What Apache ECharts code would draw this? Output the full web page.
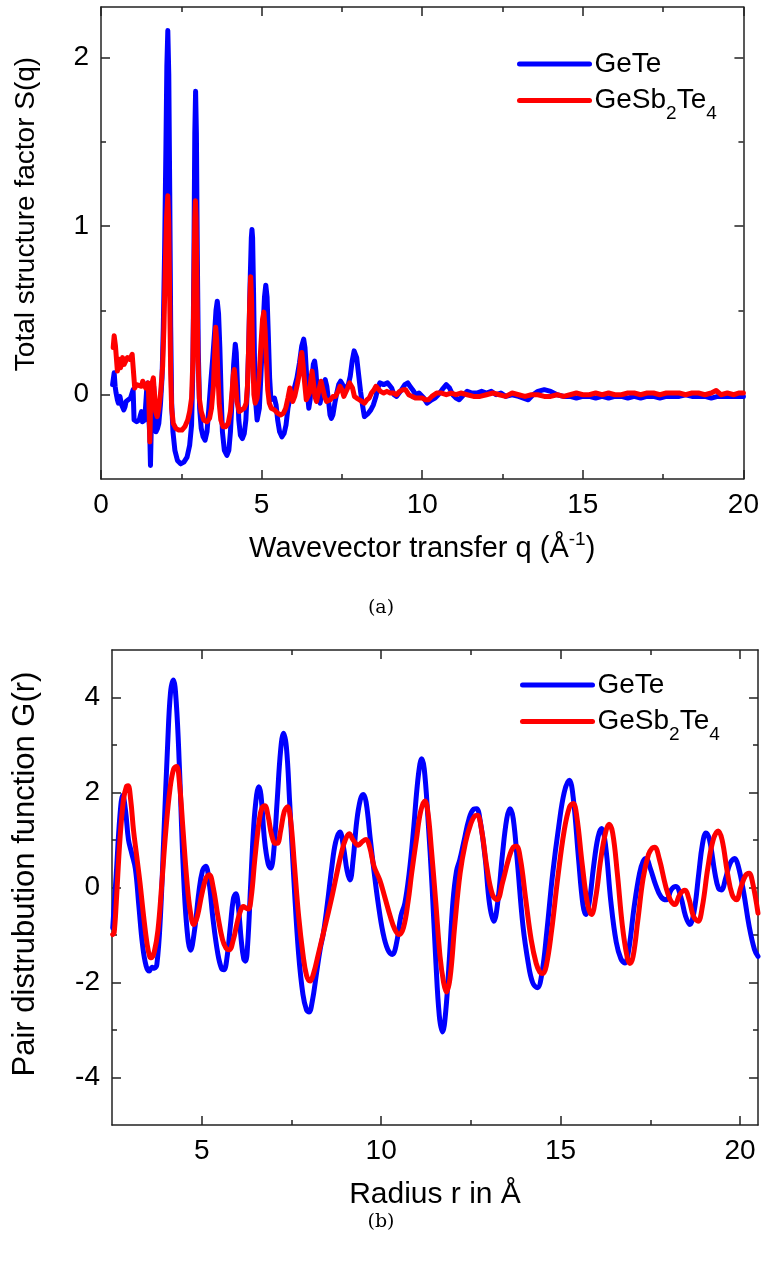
<!DOCTYPE html>
<html>
<head>
<meta charset="utf-8">
<script src="https://cdn.jsdelivr.net/npm/echarts@6/dist/echarts.min.js"></script>
<style>
  html, body { margin: 0; padding: 0; background: #fff; }
  #chart { width: 762px; height: 1270px; }
</style>
</head>
<body>
<div id="chart"></div>
<script>
// ---- (a) total structure factor S(q): [q (1/Å), S] ----
const sqGeTe = [[0.36,0.06],[0.41,0.13],[0.44,0.05],[0.47,0.01],[0.51,-0.03],[0.54,-0.05],[0.59,-0.01],[0.64,-0.06],[0.68,-0.05],[0.71,-0.09],[0.75,-0.07],[0.78,-0.04],[0.85,-0.03],[0.92,-0.02],[0.97,-0.01],[1.00,0.03],[1.03,-0.15],[1.11,-0.16],[1.19,-0.15],[1.23,-0.12],[1.26,-0.10],[1.29,-0.16],[1.36,-0.15],[1.40,-0.16],[1.43,0.05],[1.45,0.07],[1.48,-0.10],[1.52,-0.25],[1.54,-0.42],[1.57,-0.15],[1.60,0.00],[1.64,0.05],[1.67,-0.05],[1.71,-0.22],[1.76,-0.20],[1.80,-0.17],[1.85,-0.06],[1.90,0.10],[1.94,0.40],[1.98,0.85],[2.02,1.45],[2.05,1.95],[2.08,2.16],[2.11,1.90],[2.14,1.20],[2.17,0.40],[2.20,-0.05],[2.24,-0.22],[2.30,-0.33],[2.38,-0.39],[2.48,-0.41],[2.58,-0.40],[2.68,-0.37],[2.76,-0.30],[2.82,-0.18],[2.86,0.15],[2.89,0.75],[2.92,1.55],[2.945,1.80],[2.97,1.55],[3.00,0.80],[3.03,0.25],[3.07,-0.08],[3.12,-0.20],[3.18,-0.25],[3.24,-0.27],[3.30,-0.22],[3.35,-0.10],[3.42,0.08],[3.48,0.22],[3.54,0.38],[3.58,0.50],[3.62,0.555],[3.66,0.48],[3.70,0.28],[3.74,0.00],[3.78,-0.22],[3.84,-0.33],[3.92,-0.36],[3.98,-0.33],[4.03,-0.22],[4.08,-0.03],[4.13,0.18],[4.18,0.30],[4.21,0.25],[4.25,0.05],[4.29,-0.15],[4.34,-0.24],[4.40,-0.26],[4.46,-0.23],[4.51,-0.15],[4.56,0.05],[4.60,0.30],[4.64,0.65],[4.68,0.93],[4.70,0.98],[4.72,0.93],[4.75,0.60],[4.78,0.20],[4.81,-0.03],[4.86,-0.15],[4.89,-0.16],[4.93,-0.08],[4.98,0.12],[5.04,0.38],[5.09,0.58],[5.13,0.65],[5.17,0.58],[5.21,0.35],[5.25,0.10],[5.29,-0.03],[5.34,-0.03],[5.40,-0.02],[5.45,-0.06],[5.50,-0.15],[5.56,-0.22],[5.63,-0.25],[5.70,-0.23],[5.76,-0.18],[5.82,-0.08],[5.88,-0.02],[5.95,-0.01],[6.02,0.04],[6.10,0.10],[6.18,0.19],[6.25,0.29],[6.31,0.33],[6.35,0.28],[6.39,0.15],[6.43,0.00],[6.47,-0.08],[6.51,-0.03],[6.56,0.08],[6.61,0.18],[6.65,0.20],[6.69,0.14],[6.73,0.03],[6.78,-0.03],[6.82,-0.05],[6.87,0.00],[6.92,0.06],[6.98,0.09],[7.03,0.05],[7.08,-0.03],[7.13,-0.12],[7.17,-0.14],[7.22,-0.12],[7.28,-0.05],[7.34,0.01],[7.40,0.06],[7.46,0.08],[7.52,0.06],[7.58,0.03],[7.64,0.04],[7.70,0.06],[7.76,0.11],[7.82,0.20],[7.88,0.26],[7.92,0.27],[7.96,0.22],[8.02,0.12],[8.08,0.02],[8.14,-0.06],[8.20,-0.13],[8.25,-0.14],[8.32,-0.11],[8.40,-0.09],[8.48,-0.06],[8.56,-0.01],[8.62,0.04],[8.68,0.07],[8.74,0.08],[8.80,0.06],[8.86,0.05],[8.92,0.07],[8.98,0.08],[9.05,0.04],[9.12,0.00],[9.20,-0.01],[9.28,0.01],[9.36,0.03],[9.46,0.06],[9.55,0.07],[9.62,0.05],[9.70,0.03],[9.80,0.00],[9.90,0.01],[9.96,0.01],[10.05,-0.02],[10.15,-0.05],[10.20,-0.04],[10.30,-0.03],[10.40,-0.02],[10.50,0.00],[10.62,0.03],[10.75,0.06],[10.85,0.04],[10.95,0.00],[11.05,-0.02],[11.15,-0.03],[11.25,-0.01],[11.40,0.02],[11.55,0.01],[11.70,0.01],[11.85,0.02],[12.00,0.01],[12.15,0.02],[12.30,0.00],[12.45,0.01],[12.60,-0.01],[12.80,0.00],[13.00,-0.01],[13.15,-0.02],[13.30,-0.03],[13.45,0.00],[13.60,0.02],[13.80,0.03],[14.00,0.02],[14.20,0.00],[14.40,-0.01],[14.60,-0.01],[14.80,-0.02],[15.00,-0.01],[15.20,-0.01],[15.40,-0.02],[15.60,-0.01],[15.80,-0.02],[16.00,-0.01],[16.20,-0.01],[16.40,-0.02],[16.60,-0.01],[16.80,-0.02],[17.00,-0.01],[17.20,-0.01],[17.40,-0.02],[17.60,-0.01],[17.80,-0.01],[18.00,-0.01],[18.20,0.00],[18.40,-0.01],[18.60,-0.01],[18.80,-0.01],[19.00,-0.02],[19.20,-0.01],[19.40,-0.01],[19.60,-0.01],[19.80,-0.01],[20.00,-0.01]];

const sqGST = [[0.38,0.28],[0.41,0.35],[0.45,0.29],[0.48,0.28],[0.51,0.14],[0.56,0.21],[0.61,0.16],[0.67,0.22],[0.72,0.18],[0.75,0.17],[0.82,0.22],[0.90,0.21],[0.97,0.24],[1.02,0.25],[1.05,0.04],[1.11,0.06],[1.16,0.07],[1.26,0.05],[1.30,0.08],[1.34,0.09],[1.39,0.04],[1.42,0.05],[1.47,0.07],[1.50,-0.10],[1.52,-0.28],[1.55,0.00],[1.59,0.07],[1.63,0.10],[1.66,0.02],[1.70,-0.10],[1.75,-0.13],[1.80,-0.08],[1.86,0.02],[1.92,0.17],[1.96,0.40],[2.00,0.75],[2.04,1.05],[2.08,1.18],[2.11,1.02],[2.14,0.55],[2.17,0.12],[2.20,-0.08],[2.25,-0.17],[2.33,-0.20],[2.42,-0.21],[2.52,-0.21],[2.61,-0.19],[2.70,-0.15],[2.76,-0.10],[2.82,-0.02],[2.86,0.20],[2.89,0.60],[2.92,1.05],[2.94,1.15],[2.96,1.05],[2.99,0.60],[3.02,0.20],[3.06,-0.02],[3.12,-0.10],[3.20,-0.15],[3.30,-0.16],[3.38,-0.14],[3.44,-0.08],[3.50,0.05],[3.54,0.25],[3.57,0.40],[3.60,0.33],[3.64,0.12],[3.68,-0.05],[3.73,-0.15],[3.80,-0.19],[3.88,-0.19],[3.96,-0.17],[4.03,-0.10],[4.08,0.02],[4.12,0.12],[4.15,0.15],[4.19,0.07],[4.23,-0.04],[4.30,-0.10],[4.38,-0.09],[4.46,-0.08],[4.52,-0.05],[4.56,0.05],[4.60,0.30],[4.63,0.55],[4.66,0.70],[4.69,0.55],[4.72,0.25],[4.76,0.00],[4.80,-0.05],[4.86,-0.02],[4.92,0.10],[4.98,0.30],[5.03,0.45],[5.07,0.49],[5.11,0.38],[5.15,0.20],[5.19,0.03],[5.24,-0.05],[5.30,-0.08],[5.40,-0.09],[5.50,-0.11],[5.60,-0.12],[5.68,-0.11],[5.75,-0.08],[5.82,-0.02],[5.88,0.04],[5.92,0.03],[5.97,-0.04],[6.03,-0.01],[6.10,0.05],[6.17,0.12],[6.22,0.22],[6.25,0.25],[6.29,0.18],[6.34,0.07],[6.39,-0.03],[6.43,-0.04],[6.49,0.01],[6.54,0.10],[6.57,0.14],[6.61,0.08],[6.66,-0.01],[6.71,-0.04],[6.76,-0.03],[6.81,0.05],[6.85,0.08],[6.90,0.04],[6.96,-0.01],[7.02,-0.04],[7.08,-0.04],[7.14,-0.03],[7.22,-0.01],[7.30,-0.01],[7.38,0.02],[7.44,0.05],[7.50,0.03],[7.56,-0.01],[7.62,0.00],[7.68,0.04],[7.74,0.07],[7.78,0.08],[7.83,0.04],[7.89,-0.01],[7.96,-0.02],[8.04,-0.03],[8.12,-0.04],[8.20,-0.05],[8.28,-0.03],[8.35,-0.02],[8.42,0.01],[8.50,0.03],[8.56,0.05],[8.62,0.04],[8.70,0.02],[8.80,0.01],[8.90,0.02],[9.00,0.01],[9.10,0.01],[9.20,0.00],[9.30,0.02],[9.40,0.03],[9.48,0.03],[9.58,0.00],[9.68,-0.01],[9.80,-0.02],[9.90,-0.02],[10.00,-0.02],[10.10,-0.03],[10.20,-0.03],[10.30,-0.01],[10.45,0.01],[10.60,0.01],[10.75,0.00],[10.90,0.01],[11.05,0.00],[11.20,0.01],[11.40,0.00],[11.60,-0.01],[11.80,-0.01],[12.00,0.00],[12.20,0.01],[12.40,0.00],[12.60,-0.01],[12.80,0.01],[13.00,0.00],[13.20,-0.01],[13.40,0.00],[13.60,0.00],[13.80,-0.01],[14.00,-0.01],[14.20,0.00],[14.40,-0.01],[14.60,0.00],[14.80,0.01],[15.00,0.00],[15.20,0.00],[15.40,0.01],[15.60,0.00],[15.80,0.01],[16.00,0.00],[16.20,0.00],[16.40,0.01],[16.60,0.01],[16.80,0.00],[17.00,0.01],[17.20,0.01],[17.40,0.00],[17.60,0.01],[17.80,0.01],[18.00,0.01],[18.20,0.00],[18.40,0.01],[18.60,0.01],[18.80,0.00],[19.00,0.01],[19.15,0.025],[19.30,0.00],[19.50,0.01],[19.70,0.00],[19.85,0.01],[20.00,0.01]];

// ---- (b) pair distribution function G(r) ----
const rGeTe = [2.52,2.62,2.72,2.80,2.88,2.96,3.05,3.15,3.25,3.35,3.45,3.54,3.62,3.68,3.75,3.85,3.95,4.05,4.13,4.21,4.29,4.38,4.48,4.58,4.69,4.80,4.92,5.02,5.11,5.20,5.32,5.45,5.55,5.62,5.70,5.80,5.88,5.95,6.02,6.10,6.17,6.22,6.28,6.36,6.45,6.53,6.59,6.65,6.75,6.85,6.92,7.00,7.10,7.20,7.28,7.36,7.45,7.58,7.70,7.82,7.92,7.99,8.08,8.20,8.30,8.39,8.50,8.62,8.73,8.85,8.95,9.05,9.13,9.22,9.32,9.42,9.50,9.58,9.70,9.80,9.92,10.05,10.18,10.31,10.42,10.55,10.66,10.78,10.90,11.00,11.08,11.13,11.20,11.30,11.42,11.52,11.62,11.71,11.80,11.90,12.00,12.10,12.19,12.30,12.45,12.58,12.66,12.76,12.90,13.02,13.14,13.25,13.38,13.50,13.59,13.68,13.80,13.95,14.10,14.22,14.35,14.48,14.62,14.78,14.95,15.10,15.24,15.35,15.50,15.62,15.70,15.80,15.92,16.04,16.14,16.25,16.40,16.55,16.68,16.79,16.90,17.05,17.20,17.30,17.38,17.50,17.65,17.80,17.95,18.08,18.21,18.35,18.48,18.60,18.72,18.85,18.95,19.05,19.15,19.30,19.40,19.48,19.60,19.72,19.85,19.95,20.10,20.25,20.40,20.50];
const gGeTe = [-0.85,0.3,1.5,1.94,1.6,1.0,0.72,0.4,-0.4,-1.2,-1.65,-1.76,-1.68,-1.70,-1.62,-0.6,1.2,3.0,4.1,4.37,3.9,2.5,0.5,-0.8,-1.32,-0.9,-0.1,0.35,0.45,0.15,-0.7,-1.4,-1.7,-1.73,-1.5,-0.8,-0.25,-0.13,-0.4,-1.1,-1.5,-1.55,-1.2,0.0,1.3,1.95,2.12,1.95,1.0,0.5,0.41,0.7,1.8,2.9,3.25,2.95,1.8,0.0,-1.4,-2.25,-2.58,-2.62,-2.4,-1.8,-1.3,-0.96,-0.35,0.4,0.95,1.17,0.85,0.35,0.16,0.6,1.4,1.85,1.96,1.8,1.0,0.35,-0.35,-0.95,-1.3,-1.41,-1.2,-0.6,-0.33,0.3,1.2,2.1,2.6,2.71,2.5,1.5,0.0,-1.5,-2.7,-3.04,-2.6,-1.5,-0.3,0.35,0.58,0.95,1.45,1.65,1.66,1.4,0.6,-0.35,-0.71,-0.3,0.7,1.45,1.66,1.45,0.5,-0.8,-1.6,-2.0,-2.11,-1.8,-0.9,0.3,1.3,2.0,2.26,1.9,0.6,-0.35,-0.57,-0.3,0.45,1.05,1.24,0.9,-0.3,-1.15,-1.5,-1.59,-1.3,-0.4,0.3,0.55,0.61,0.4,0.05,-0.2,-0.26,-0.05,0.02,-0.2,-0.6,-0.78,-0.5,0.3,0.9,1.15,1.0,0.3,-0.02,-0.05,0.2,0.5,0.61,0.45,-0.1,-0.8,-1.3,-1.45];

const rGST = [2.52,2.56,2.62,2.72,2.82,2.90,2.95,3.02,3.10,3.19,3.28,3.38,3.48,3.55,3.60,3.68,3.78,3.88,4.00,4.12,4.22,4.30,4.38,4.48,4.58,4.68,4.78,4.88,5.00,5.12,5.21,5.32,5.45,5.58,5.68,5.77,5.88,6.00,6.10,6.16,6.23,6.30,6.38,6.48,6.60,6.68,6.76,6.85,6.95,7.05,7.11,7.20,7.30,7.39,7.48,7.58,7.70,7.82,7.92,8.02,8.12,8.25,8.39,8.52,8.65,8.78,8.90,9.00,9.11,9.22,9.36,9.48,9.58,9.68,9.80,9.96,10.10,10.25,10.38,10.50,10.62,10.75,10.85,10.98,11.10,11.22,11.30,11.40,11.52,11.64,11.74,11.82,11.92,12.05,12.20,12.35,12.50,12.60,12.68,12.80,12.95,13.10,13.23,13.38,13.55,13.68,13.77,13.88,14.02,14.18,14.32,14.42,14.50,14.60,14.75,14.92,15.10,15.25,15.35,15.45,15.60,15.75,15.86,15.98,16.12,16.25,16.35,16.45,16.58,16.72,16.85,16.93,17.02,17.15,17.30,17.45,17.55,17.62,17.75,17.92,18.05,18.18,18.32,18.46,18.58,18.70,18.83,18.95,19.10,19.25,19.39,19.50,19.65,19.78,19.90,20.02,20.15,20.25,20.35,20.50];
const gGST = [-0.99,-0.95,-0.3,1.0,1.85,2.12,2.14,1.85,1.2,0.65,0.1,-0.6,-1.2,-1.45,-1.48,-1.35,-0.9,0.0,1.2,2.1,2.5,2.55,2.2,1.2,0.2,-0.5,-0.78,-0.6,-0.15,0.2,0.27,0.0,-0.6,-1.1,-1.28,-1.31,-1.1,-0.7,-0.45,-0.40,-0.43,-0.45,-0.2,0.6,1.4,1.68,1.72,1.5,1.1,0.93,0.93,1.2,1.6,1.70,1.4,0.5,-0.6,-1.4,-1.85,-1.97,-1.8,-1.4,-0.96,-0.55,-0.12,0.35,0.75,1.0,1.13,1.0,0.89,0.97,1.01,0.85,0.45,0.16,-0.2,-0.6,-0.88,-0.99,-0.85,-0.3,0.30,1.0,1.6,1.82,1.6,0.8,-0.3,-1.45,-2.0,-2.20,-1.9,-0.8,0.3,0.95,1.35,1.50,1.52,1.2,0.4,-0.15,-0.26,0.1,0.6,0.85,0.87,0.6,-0.2,-1.1,-1.6,-1.78,-1.81,-1.65,-0.9,0.2,1.2,1.7,1.77,1.5,0.5,-0.35,-0.57,-0.2,0.6,1.15,1.33,1.15,0.3,-0.8,-1.45,-1.60,-1.45,-0.7,0.2,0.7,0.83,0.85,0.6,0.05,-0.25,-0.36,-0.15,-0.06,-0.25,-0.6,-0.71,-0.4,0.4,1.0,1.19,1.0,0.3,-0.15,-0.26,0.0,0.25,0.30,0.1,-0.54];

// tick positions
const xMajorA = [0, 5, 10, 15, 20];
const xMinorA = [2.5, 7.5, 12.5, 17.5];
const yMajorA = [0, 1, 2];
const yMinorA = [0.5, 1.5];
const xMajorB = [5, 10, 15, 20];
const xMinorB = [7.5, 12.5, 17.5];
const yMajorB = [-4, -2, 0, 2, 4];
const yMinorB = [-3, -1, 1, 3];

const seriesNames = ['GeTe', 'GeSb2Te4'];

const FONT = 'Liberation Sans, Arial, sans-serif';
const AXIS_COLOR = '#222';

function pairs(xs, ys) { return xs.map((x, i) => [x, ys[i]]); }

// one box frame = two axes on each side (major + minor ticks)
function sideAxes(gridIndex, position, min, max, major, minor, labelOpt, nameOpt) {
  const base = {
    type: 'value', gridIndex, position, min, max,
    splitLine: { show: false },
    axisLine: { onZero: false, show: false }
  };
  const majorAxis = Object.assign({}, base, {
    axisLine: { show: true, onZero: false, lineStyle: { color: AXIS_COLOR, width: 1.5 } },
    axisTick: { show: true, inside: true, length: 9, customValues: major, lineStyle: { color: AXIS_COLOR, width: 1.5 } },
    axisLabel: labelOpt
      ? Object.assign({ show: true, customValues: major, fontSize: 28, fontFamily: FONT, color: '#000' }, labelOpt)
      : { show: false }
  }, nameOpt || {});
  const minorAxis = Object.assign({}, base, {
    axisTick: { show: true, inside: true, length: 5, customValues: minor, lineStyle: { color: AXIS_COLOR, width: 1.5 } },
    axisLabel: { show: false }
  });
  return [majorAxis, minorAxis];
}

function nameStyle(size, padding) {
  return {
    fontSize: size, fontFamily: FONT, color: '#000', padding,
    rich: {
      t: { fontSize: size, fontFamily: FONT, color: '#000', lineHeight: 34 },
      u: { fontSize: 19, fontFamily: FONT, color: '#000', lineHeight: 34, padding: [0, 0, 18, 0] }
    }
  };
}

const xAxes = [
  ...sideAxes(0, 'bottom', 0, 20, xMajorA, xMinorA, { margin: 12 }, {
    name: '{t|Wavevector transfer q (Å}{u|-1}{t|)}', nameLocation: 'middle', nameGap: 53, nameTextStyle: nameStyle(29, 0)
  }),
  ...sideAxes(0, 'top', 0, 20, xMajorA, xMinorA, null),
  ...sideAxes(1, 'bottom', 2.5, 20.5, xMajorB, xMinorB, { margin: 12 }, {
    name: '{t|Radius r in Å}', nameLocation: 'middle', nameGap: 53, nameTextStyle: nameStyle(30, 0)
  }),
  ...sideAxes(1, 'top', 2.5, 20.5, xMajorB, xMinorB, null)
];

const yAxes = [
  ...sideAxes(0, 'left', -0.5, 2.3, yMajorA, yMinorA, { margin: 12 }, {
    name: '{t|Total structure factor S(q)}', nameLocation: 'middle', nameGap: 58, nameTextStyle: nameStyle(28, [0, 0, 0, 58])
  }),
  ...sideAxes(0, 'right', -0.5, 2.3, yMajorA, yMinorA, null),
  ...sideAxes(1, 'left', -5, 5, yMajorB, yMinorB, { margin: 12 }, {
    name: '{t|Pair distrubution function G(r)}', nameLocation: 'middle', nameGap: 70, nameTextStyle: nameStyle(31, [0, 0, 0, 27])
  }),
  ...sideAxes(1, 'right', -5, 5, yMajorB, yMinorB, null)
];

function lineSeries(name, xIdx, yIdx, data, color, smooth, z) {
  return {
    name, type: 'line', xAxisIndex: xIdx, yAxisIndex: yIdx, data,
    symbol: 'none', smooth, z,
    lineStyle: { color, width: 5, cap: 'round', join: 'round' },
    itemStyle: { color },
    emphasis: { disabled: true }
  };
}

const legendText = {
  fontSize: 28, fontFamily: FONT, color: '#000',
  rich: {
    n: { fontSize: 28, fontFamily: FONT, color: '#000', lineHeight: 34 },
    s: { fontSize: 19, fontFamily: FONT, color: '#000', lineHeight: 34, padding: [26, 0, 0, 0] }
  }
};
function legendFormatter(name) {
  return name === 'GeSb2Te4' ? '{n|GeSb}{s|2}{n|Te}{s|4}' : '{n|' + name + '}';
}
function legendAt(left, top) {
  return {
    data: seriesNames, orient: 'vertical', left, top,
    itemWidth: 70, itemHeight: 14, itemGap: 0,
    itemStyle: { opacity: 0 },
    lineStyle: { width: 5, cap: 'round' },
    formatter: legendFormatter, textStyle: legendText,
    selectedMode: false
  };
}

const captionStyle = { fontFamily: 'DejaVu Serif, serif', fontWeight: 'normal', fontSize: 19, color: '#000' };

const chart = echarts.init(document.getElementById('chart'), null, { renderer: 'canvas' });
chart.setOption({
  animation: false,
  backgroundColor: '#fff',
  grid: [
    { left: 101, top: 7, width: 643, height: 472 },
    { left: 112, top: 650, width: 646, height: 475 }
  ],
  xAxis: xAxes,
  yAxis: yAxes,
  legend: [legendAt(512, 45), legendAt(515, 666)],
  title: [
    { text: '(a)', left: 'center', top: 594, textStyle: captionStyle },
    { text: '(b)', left: 'center', top: 1208, textStyle: captionStyle }
  ],
  series: [
    lineSeries('GeTe', 0, 0, sqGeTe, '#0000ff', false, 2),
    lineSeries('GeSb2Te4', 0, 0, sqGST, '#ff0000', false, 3),
    lineSeries('GeTe', 4, 4, pairs(rGeTe, gGeTe), '#0000ff', 0.4, 2),
    lineSeries('GeSb2Te4', 4, 4, pairs(rGST, gGST), '#ff0000', 0.4, 3)
  ]
});
</script>
</body>
</html>
